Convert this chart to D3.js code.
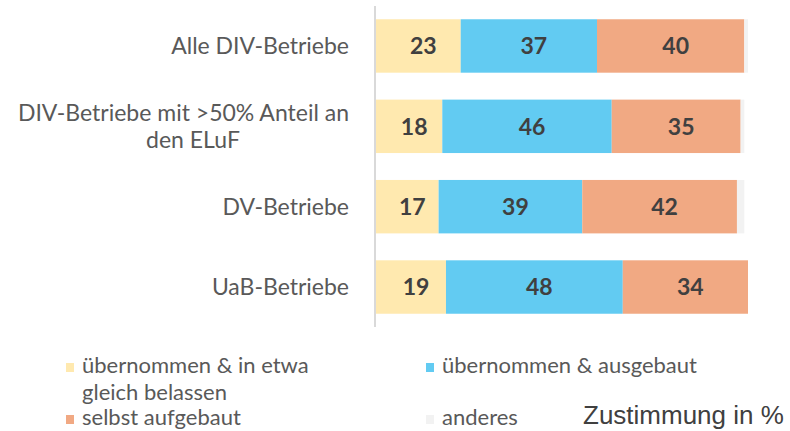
<!DOCTYPE html>
<html>
<head>
<meta charset="utf-8">
<script src="https://cdn.jsdelivr.net/npm/d3@7"></script>
<style>
  body { margin: 0; background: #fff; }
  svg { display: block; font-family: Lato, "Open Sans", sans-serif; }
  .cat { fill: #595959; font-size: 23px; }
  .val { fill: #404040; font-size: 23px; font-weight: bold; }
  .leg { fill: #595959; font-size: 22px; }
  .note { fill: #404040; font-size: 26px; font-family: "Liberation Sans", Arial, sans-serif; }
</style>
</head>
<body>
<svg id="chart" width="790" height="431"></svg>
<script>
// categories (top to bottom), each label split into lines
const categories = [
  ['Alle DIV-Betriebe'],
  ['DIV-Betriebe mit >50% Anteil an', 'den ELuF'],
  ['DV-Betriebe'],
  ['UaB-Betriebe']
]

const seriesNames = ['übernommen & in etwa gleich belassen', 'übernommen & ausgebaut', 'selbst aufgebaut', 'anderes']
const colors = ['#FFE9AF', '#62CBF2', '#F1A983', '#F2F2F2']

// values per series, in category order
const uebernommenGleich = [23, 18, 17, 19]
const uebernommenAusgebaut = [37, 46, 39, 48]
const selbstAufgebaut = [40, 35, 42, 34]
const anderes = [1, 1, 2, 0]

const series = [uebernommenGleich, uebernommenAusgebaut, selbstAufgebaut, anderes]

let svg = d3.select('#chart')

let x = d3.scaleLinear()
  .domain([0, 101])
  .range([376, 748])

let y = d3.scaleBand()
  .domain(d3.range(categories.length))
  .range([6, 327])
  .paddingInner(0.335)
  .paddingOuter(0.165)

// build stacked rows
let rows = categories.map((c, i) => {
  let start = 0
  return series.map((s, k) => {
    let seg = {cat: i, k: k, v: s[i], x0: start, x1: start + s[i]}
    start += s[i]
    return seg
  })
})

let bars = svg.append('g')

bars.selectAll('rect')
  .data(rows.flat().filter(d => d.v > 0))
  .enter()
  .append('rect')
  .attr('x', d => x(d.x0))
  .attr('width', d => x(d.x1) - x(d.x0))
  .attr('y', d => y(d.cat))
  .attr('height', y.bandwidth())
  .attr('fill', d => colors[d.k])

bars.selectAll('.val')
  .data(rows.flat().filter(d => d.k < 3))
  .enter()
  .append('text')
  .classed('val', true)
  // labels sit a little right of segment centre
  .attr('x', d => (x(d.x0) + x(d.x1)) / 2 + 5)
  .attr('y', d => y(d.cat) + y.bandwidth() / 2)
  .attr('dy', '0.36em')
  .attr('text-anchor', 'middle')
  .text(d => d.v)

// category axis line
svg.append('line')
  .attr('x1', 375).attr('x2', 375)
  .attr('y1', y.range()[0]).attr('y2', y.range()[1])
  .attr('stroke', '#D9D9D9')
  .attr('stroke-width', 2)

// category labels
let cats = svg.selectAll('.cat')
  .data(categories)
  .enter()
  .append('text')
  .classed('cat', true)
  .attr('transform', (d, i) => `translate(349, ${y(i) + y.bandwidth() / 2 - (d.length - 1) * 13.5})`)

cats.selectAll('tspan')
  .data(d => d)
  .enter()
  .append('tspan')
  // wrapped second line is centred under the first
  .attr('x', (d, j) => j === 1 ? -156 : 0)
  .attr('y', (d, j) => j * 27)
  .attr('dy', '0.35em')
  .attr('text-anchor', (d, j) => j === 1 ? 'middle' : 'end')
  .text(d => d)

// legend
const legendItems = [
  {k: 0, x: 66, y: 373, lines: ['übernommen & in etwa', 'gleich belassen']},
  {k: 1, x: 426, y: 373, lines: ['übernommen & ausgebaut']},
  {k: 2, x: 66, y: 425, lines: ['selbst aufgebaut']},
  {k: 3, x: 426, y: 425, lines: ['anderes']}
]

let legend = svg.selectAll('.legend')
  .data(legendItems)
  .enter()
  .append('g')
  .attr('transform', d => `translate(${d.x}, ${d.y})`)

legend.append('rect')
  .attr('x', 0).attr('y', -10)
  .attr('width', 8).attr('height', 9)
  .attr('fill', d => colors[d.k])

legend.append('text')
  .classed('leg', true)
  .selectAll('tspan')
  .data(d => d.lines)
  .enter()
  .append('tspan')
  .attr('x', 16)
  .attr('y', (d, j) => j * 27)
  .text(d => d)

svg.append('text')
  .classed('note', true)
  .attr('x', 583)
  .attr('y', 424)
  .text('Zustimmung in %')
</script>
</body>
</html>
